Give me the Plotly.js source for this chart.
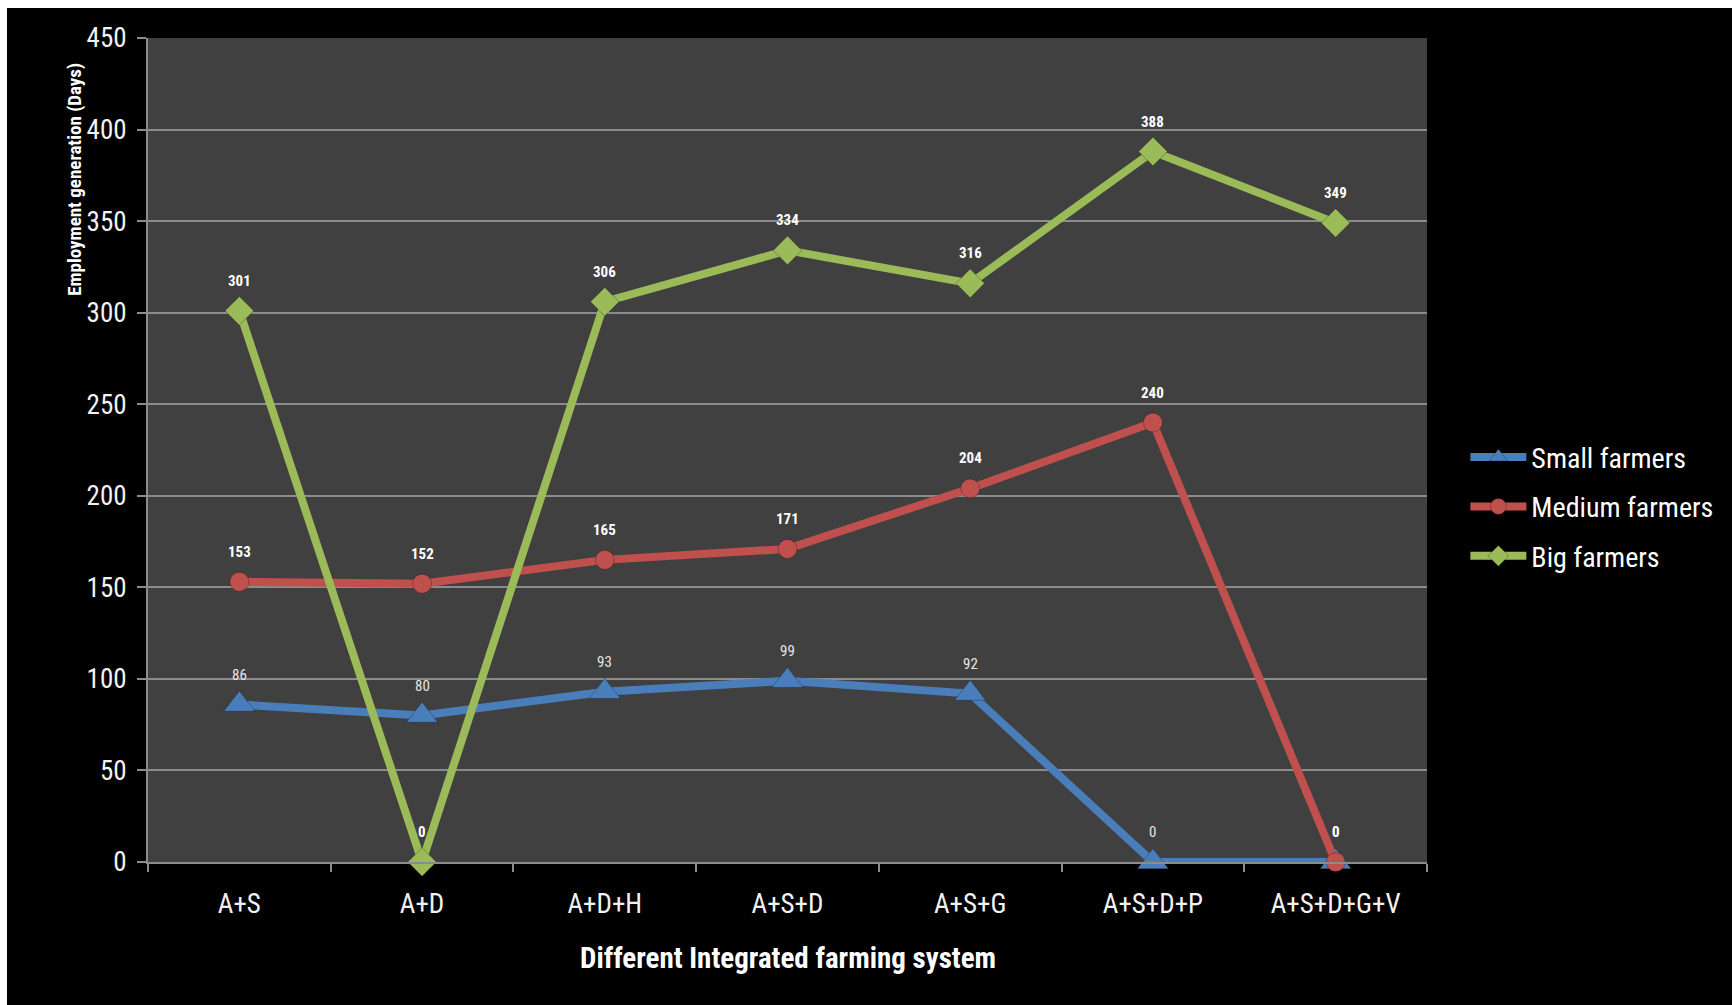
<!DOCTYPE html>
<html>
<head>
<meta charset="utf-8">
<script src="https://cdn.plot.ly/plotly-3.0.1.min.js"></script>
<style>
  html, body { margin: 0; padding: 0; background: #ffffff; width: 1732px; height: 1005px; overflow: hidden; }
  #chart { position: absolute; left: 7px; top: 8px; width: 1725px; height: 997px; }
</style>
</head>
<body>
<div id="chart"></div>
<script>
const categories = ["A+S", "A+D", "A+D+H", "A+S+D", "A+S+G", "A+S+D+P", "A+S+D+G+V"];
const smallFarmers = [86, 80, 93, 99, 92, 0, 0];
const mediumFarmers = [153, 152, 165, 171, 204, 240, 0];
const bigFarmers = [301, 0, 306, 334, 316, 388, 349];
const seriesNames = ["Small farmers", "Medium farmers", "Big farmers"];
const yTicks = [0, 50, 100, 150, 200, 250, 300, 350, 400, 450];

const FONT = "'Roboto Condensed', 'Liberation Sans Narrow', 'Arial Narrow', 'DejaVu Sans Condensed', sans-serif";

const seriesDefs = [
  {name: seriesNames[0], y: smallFarmers, color: "#4a7ebb", symbol: "triangle-up", size: 27, labelBold: false},
  {name: seriesNames[1], y: mediumFarmers, color: "#c0504d", symbol: "circle", size: 19, labelBold: true},
  {name: seriesNames[2], y: bigFarmers, color: "#9bbb59", symbol: "diamond", size: 22, labelBold: true}
];

const traces = seriesDefs.map((s, i) => ({
  type: "scatter",
  mode: "lines+markers",
  name: s.name,
  legendgroup: "g" + i,
  x: categories,
  y: s.y,
  line: {color: s.color, width: 8},
  marker: {color: s.color, symbol: s.symbol, size: s.size,
           line: {color: "rgba(0,0,0,0.25)", width: 1}},
  cliponaxis: false,
  hoverinfo: "x+y+name"
}));

const annotations = [];
seriesDefs.forEach(s => {
  s.y.forEach((v, j) => {
    annotations.push({
      x: categories[j], y: v, xref: "x", yref: "y",
      text: s.labelBold ? "<b>" + v + "</b>" : String(v),
      showarrow: false, yshift: 30,
      font: {family: FONT, size: 15, color: s.labelBold ? "#ffffff" : "#e6e6e6"}
    });
  });
});
annotations.push({
  text: "<b>Different Integrated farming system</b>",
  xref: "paper", yref: "paper", x: 0.5, y: -0.117, yanchor: "middle",
  showarrow: false, font: {family: FONT, size: 29, color: "#ffffff"}
});
annotations.push({
  text: "<b>Employment generation (Days)</b>",
  xref: "paper", yref: "paper", x: -0.057, y: 0.828, xanchor: "center", yanchor: "middle",
  textangle: -90, showarrow: false, font: {family: FONT, size: 19, color: "#ffffff"}
});

const layout = {
  width: 1725, height: 997,
  margin: {l: 141, r: 305, t: 30, b: 143},
  paper_bgcolor: "#000000",
  plot_bgcolor: "#404040",
  showlegend: true,
  legend: {
    x: 1.03, y: 0.431, xanchor: "left", yanchor: "middle",
    font: {family: FONT, size: 28, color: "#ffffff"},
    itemwidth: 56, tracegroupgap: 10, bgcolor: "rgba(0,0,0,0)",
    traceorder: "grouped"
  },
  xaxis: {
    type: "category",
    range: [-0.5, 6.5],
    tickson: "boundaries",
    ticks: "outside", ticklen: 8, tickwidth: 2, tickcolor: "#8c8c8c",
    showline: true, linecolor: "#8c8c8c", linewidth: 2,
    showgrid: false, zeroline: false,
    tickfont: {family: FONT, size: 27, color: "#f2f2f2"},
    ticklabelstandoff: 17,
    fixedrange: true
  },
  yaxis: {
    range: [0, 450],
    tickvals: yTicks,
    ticks: "outside", ticklen: 9, tickwidth: 2, tickcolor: "#8c8c8c",
    showline: true, linecolor: "#8c8c8c", linewidth: 2,
    showgrid: true, gridcolor: "#8c8c8c", gridwidth: 2,
    zeroline: false,
    tickfont: {family: FONT, size: 27, color: "#f2f2f2"},
    ticklabelstandoff: 5,
    fixedrange: true
  },
  annotations: annotations
};

Plotly.newPlot("chart", traces, layout, {displayModeBar: false, staticPlot: true});
</script>
</body>
</html>
